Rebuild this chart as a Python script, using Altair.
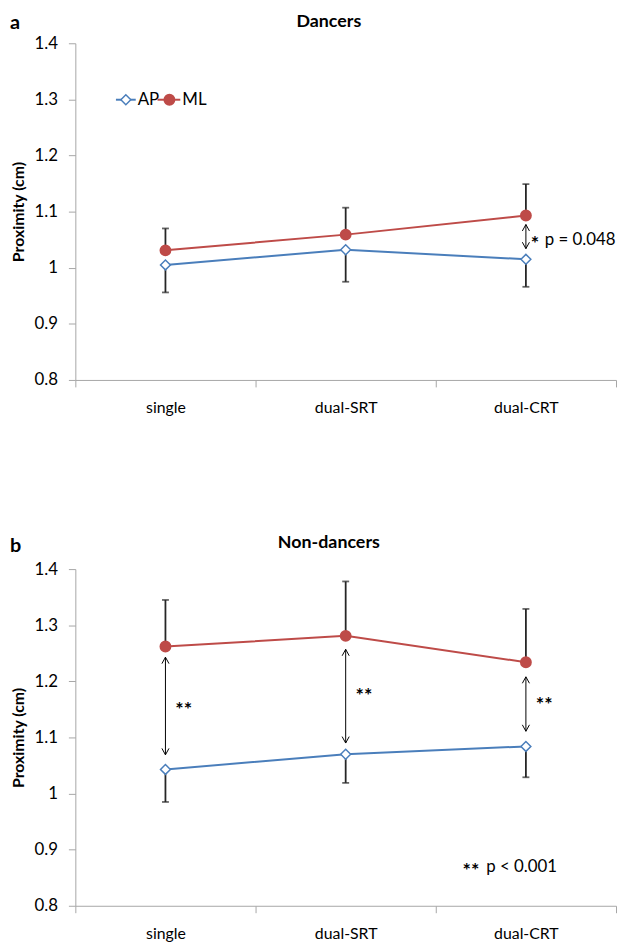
import altair as alt
import pandas as pd

# ---------------- data ----------------
categories = ["single", "dual-SRT", "dual-CRT"]
series_names = ["AP", "ML"]

dancers_ap = [1.005, 1.032, 1.015]
dancers_ap_err = [0.049, 0.057, 0.049]
dancers_ml = [1.031, 1.059, 1.093]
dancers_ml_err = [0.039, 0.048, 0.056]

non_ap = [1.043, 1.070, 1.084]
non_ap_err = [0.058, 0.051, 0.055]
non_ml = [1.262, 1.281, 1.234]
non_ml_err = [0.083, 0.097, 0.095]

# significance arrows (category, upper tip, lower tip)
dancers_arrow_cat = ["dual-CRT"]
dancers_arrow_top = [1.077]
dancers_arrow_bottom = [1.034]
dancers_star_y = [1.050]
dancers_star_text = ["*"]
dancers_p_text = ["p = 0.048"]

non_arrow_cat = ["single", "dual-SRT", "dual-CRT"]
non_arrow_top = [1.243, 1.257, 1.208]
non_arrow_bottom = [1.069, 1.090, 1.111]
non_star_y = [1.155, 1.181, 1.164]
non_star_text = ["**", "**", "**"]
non_note_y = [0.869]
non_note_star = ["**"]
non_note_text = ["p < 0.001"]

y_ticks = [0.8, 0.9, 1.0, 1.1, 1.2, 1.3, 1.4]

BLUE = "#4A7EBB"
RED = "#BE4B48"
ERR = "#262626"
AXIS_GRAY = "#A6A6A6"
FONT = "Lato"

W, H = 546, 340
UP = "M-0.55,1L0,0L0.55,1"
DOWN = "M-0.55,-1L0,0L0.55,-1"


def long_df(ap, ap_err, ml, ml_err):
    rows = []
    for i, c in enumerate(categories):
        rows.append({"cat": c, "idx": i, "series": "AP", "value": ap[i], "end": ap[i] - ap_err[i]})
        rows.append({"cat": c, "idx": i, "series": "ML", "value": ml[i], "end": ml[i] + ml_err[i]})
    return pd.DataFrame(rows)


x_enc = alt.X(
    "cat:N",
    sort=categories,
    scale=alt.Scale(domain=categories, paddingInner=0, paddingOuter=0),
    axis=alt.Axis(
        title=None, labelAngle=0, tickBand="extent", tickSize=7,
        labelPadding=13, labelFontSize=16, labelFont=FONT, labelColor="#000",
        domainColor=AXIS_GRAY, tickColor=AXIS_GRAY, grid=False,
    ),
)


def y_enc(field):
    return alt.Y(
        field,
        scale=alt.Scale(domain=[0.8, 1.4], nice=False, zero=False),
        axis=alt.Axis(
            title="Proximity (cm)", values=y_ticks, format="~f", grid=False,
            tickSize=7, labelPadding=11, labelFontSize=17, labelFont=FONT,
            labelColor="#000", titleFont=FONT, titleFontSize=16,
            titleFontWeight="bold", titleColor="#000", titlePadding=8,
            domainColor=AXIS_GRAY, tickColor=AXIS_GRAY,
        ),
    )


color_scale = alt.Scale(domain=series_names, range=[BLUE, RED])


def panel(df, arrow_df, star_df, title, title_y, letter, letter_y, extra_layers):
    base = alt.Chart(df)
    line = base.mark_line(strokeWidth=2).encode(
        x=x_enc, y=y_enc("value:Q"),
        color=alt.Color("series:N", scale=color_scale, legend=None),
        order=alt.Order("idx:Q"),
    )
    err_rule = base.mark_rule(color=ERR, strokeWidth=1.8).encode(
        x=x_enc, y=y_enc("value:Q"), y2="end:Q")
    err_cap = base.mark_tick(color=ERR, thickness=1.8, size=7).encode(
        x=x_enc, y=y_enc("end:Q"))
    ap_pts = base.transform_filter(alt.datum.series == "AP").mark_point(
        shape="diamond", filled=True, fill="white", stroke=BLUE,
        strokeWidth=1.5, size=100, opacity=1).encode(x=x_enc, y=y_enc("value:Q"))
    ml_pts = base.transform_filter(alt.datum.series == "ML").mark_point(
        shape="circle", filled=True, fill=RED, stroke=RED, size=100,
        opacity=1).encode(x=x_enc, y=y_enc("value:Q"))

    ab = alt.Chart(arrow_df)
    arrow_rule = ab.mark_rule(color="#000", strokeWidth=1).encode(
        x=x_enc, y=y_enc("top:Q"), y2="bottom:Q")
    arrow_up = ab.mark_point(shape=UP, filled=False, stroke="#000",
                             strokeWidth=1, size=169, opacity=1).encode(
        x=x_enc, y=y_enc("top:Q"))
    arrow_dn = ab.mark_point(shape=DOWN, filled=False, stroke="#000",
                             strokeWidth=1, size=169, opacity=1).encode(
        x=x_enc, y=y_enc("bottom:Q"))

    letter_mark = alt.Chart(pd.DataFrame({"t": [letter]})).mark_text(
        font=FONT, fontSize=20, fontWeight="bold", align="left",
        baseline="alphabetic", color="#000").encode(
        text="t:N", x=alt.value(-66), y=alt.value(letter_y))
    title_mark = alt.Chart(pd.DataFrame({"t": [title]})).mark_text(
        font=FONT, fontSize=18, fontWeight="bold", align="center",
        baseline="alphabetic", color="#000").encode(
        text="t:N", x=alt.value(W / 2 - 17), y=alt.value(title_y))

    layers = [line, err_rule, err_cap, arrow_rule, arrow_up, arrow_dn,
              ap_pts, ml_pts, letter_mark, title_mark] + extra_layers(star_df)
    return alt.layer(*layers).properties(width=W, height=H)


df_a = long_df(dancers_ap, dancers_ap_err, dancers_ml, dancers_ml_err)
df_b = long_df(non_ap, non_ap_err, non_ml, non_ml_err)

arrows_a = pd.DataFrame({"cat": dancers_arrow_cat, "top": dancers_arrow_top,
                         "bottom": dancers_arrow_bottom})
arrows_b = pd.DataFrame({"cat": non_arrow_cat, "top": non_arrow_top,
                         "bottom": non_arrow_bottom})
stars_a = pd.DataFrame({"cat": dancers_arrow_cat, "y": dancers_star_y,
                        "star": dancers_star_text, "p": dancers_p_text})
stars_b = pd.DataFrame({"cat": non_arrow_cat, "y": non_star_y, "star": non_star_text})
note_b = pd.DataFrame({"cat": ["dual-CRT"], "y": non_note_y,
                       "star": non_note_star, "p": non_note_text})


def extras_a(star_df):
    sb = alt.Chart(star_df)
    star = sb.mark_text(font=FONT, fontSize=20, fontWeight="bold", align="left",
                        baseline="middle", dx=5, dy=4, color="#000").encode(
        x=x_enc, y=y_enc("y:Q"), text="star:N")
    ptxt = sb.mark_text(font=FONT, fontSize=17, align="left", baseline="middle",
                        dx=19, color="#000").encode(
        x=x_enc, y=y_enc("y:Q"), text="p:N")
    # Excel-style legend inside the plot
    leg = []
    for name, col, x0, x1, xm, xt in [("AP", BLUE, 41, 61, 51, 63),
                                       ("ML", RED, 83, 106, 95, 108)]:
        ldf = pd.DataFrame({"series": [name]})
        leg.append(alt.Chart(ldf).mark_rule(color=col, strokeWidth=2).encode(
            x=alt.value(x0), x2=alt.value(x1), y=alt.value(57)))
        if name == "AP":
            leg.append(alt.Chart(ldf).mark_point(
                shape="diamond", filled=True, fill="white", stroke=col,
                strokeWidth=1.5, size=100, opacity=1).encode(
                x=alt.value(xm), y=alt.value(57)))
        else:
            leg.append(alt.Chart(ldf).mark_point(
                shape="circle", filled=True, fill=col, stroke=col, size=100,
                opacity=1).encode(x=alt.value(xm), y=alt.value(57)))
        leg.append(alt.Chart(ldf).mark_text(
            font=FONT, fontSize=17, align="left", baseline="middle",
            color="#000").encode(text="series:N", x=alt.value(xt), y=alt.value(57)))
    return [star, ptxt] + leg


def extras_b(star_df):
    sb = alt.Chart(star_df)
    star = sb.mark_text(font=FONT, fontSize=20, fontWeight="bold", align="left",
                        baseline="middle", dx=10, dy=4, color="#000").encode(
        x=x_enc, y=y_enc("y:Q"), text="star:N")
    nb = alt.Chart(note_b)
    nstar = nb.mark_text(font=FONT, fontSize=20, fontWeight="bold", align="left",
                         baseline="middle", dx=-64, dy=4, color="#000").encode(
        x=x_enc, y=y_enc("y:Q"), text="star:N")
    ntxt = nb.mark_text(font=FONT, fontSize=17, align="left", baseline="middle",
                        dx=-40, color="#000").encode(
        x=x_enc, y=y_enc("y:Q"), text="p:N")
    return [star, nstar, ntxt]


panel_a = panel(df_a, arrows_a, stars_a, "Dancers", -16, "a", -14, extras_a)
panel_b = panel(df_b, arrows_b, stars_b, "Non-dancers", -21, "b", -17, extras_b)

chart = alt.vconcat(panel_a, panel_b, spacing=120).properties(
    padding={"top": 1, "left": 2, "right": 0, "bottom": 0},
    background="white",
).configure_view(stroke=None)

chart.save("out.html", embed_options={"renderer": "svg", "actions": False})
